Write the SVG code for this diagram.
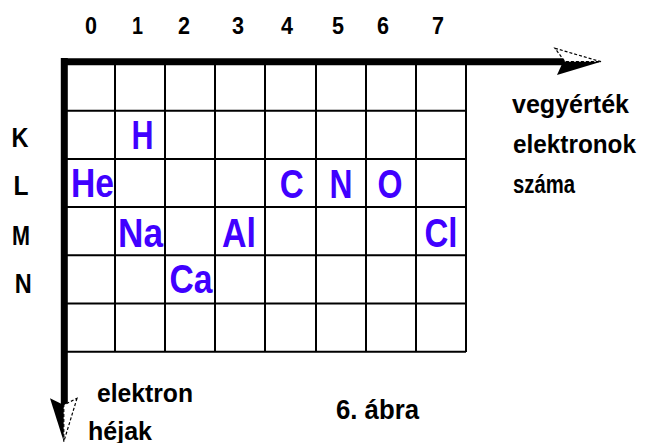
<svg xmlns="http://www.w3.org/2000/svg" width="645" height="443" viewBox="0 0 645 443">
<style>
text{font-family:"Liberation Sans",Arial,sans-serif;font-weight:bold}
.el{fill:#4000ff;font-size:41px;text-anchor:middle}
.dg{fill:#000;font-size:24px;text-anchor:middle}
.rw{fill:#000;font-size:28px;text-anchor:middle}
.lb{fill:#000;font-size:25px}
.grid{stroke:#000;stroke-width:2;fill:none}
.axis{stroke:#000;stroke-width:7;fill:none}
.dash{fill:#fff;stroke:#000;stroke-width:1.2;stroke-dasharray:3 2}
</style>
<rect width="645" height="443" fill="#fff"/>
<g id="grid" class="grid">
<path d="M115 62V352M165 62V352M215 62V352M265 62V352M316 62V352M366 62V352M416 62V352M466 62V352"/>
<path d="M64 110.7H466M64 158.9H466M64 207.1H466M64 255.3H466M64 303.5H466M64 351.7H466"/>
</g>
<g id="connectors">
<g id="axis-x">
<path class="axis" d="M61 61.7H566"/>
<path class="dash" d="M555 48.3L601 61.7L565 61.7Z"/>
<path fill="#000" d="M557 75L601 61.7L563 61.7Z"/>
</g>
<g id="axis-y">
<path class="axis" d="M64.3 58V408"/>
<path fill="#000" d="M50 398.3L63.8 441.7L63.8 405Z"/>
<path class="dash" d="M77 398.3L63.8 441.7L63.8 405Z"/>
</g>
</g>
<g id="col-labels">
<text class="dg" x="91" y="34" textLength="12" lengthAdjust="spacingAndGlyphs">0</text>
<text class="dg" x="137.5" y="34" textLength="11" lengthAdjust="spacingAndGlyphs">1</text>
<text class="dg" x="184" y="34" textLength="12" lengthAdjust="spacingAndGlyphs">2</text>
<text class="dg" x="238" y="34" textLength="12" lengthAdjust="spacingAndGlyphs">3</text>
<text class="dg" x="287" y="34" textLength="12" lengthAdjust="spacingAndGlyphs">4</text>
<text class="dg" x="338" y="34" textLength="12" lengthAdjust="spacingAndGlyphs">5</text>
<text class="dg" x="383" y="34" textLength="12" lengthAdjust="spacingAndGlyphs">6</text>
<text class="dg" x="438" y="34" textLength="12" lengthAdjust="spacingAndGlyphs">7</text>
</g>
<g id="row-labels">
<text class="rw" x="20" y="146.5" textLength="17" lengthAdjust="spacingAndGlyphs">K</text>
<text class="rw" x="21" y="195" textLength="15" lengthAdjust="spacingAndGlyphs">L</text>
<text class="rw" x="21" y="245" textLength="18" lengthAdjust="spacingAndGlyphs">M</text>
<text class="rw" x="23.3" y="293" textLength="17" lengthAdjust="spacingAndGlyphs">N</text>
</g>
<g id="el-H"><text class="el" x="142.5" y="149" textLength="22" lengthAdjust="spacingAndGlyphs">H</text></g>
<g id="el-He"><text class="el" x="92.5" y="196.5" textLength="43" lengthAdjust="spacingAndGlyphs">He</text></g>
<g id="el-Na"><text class="el" x="140.5" y="246.5" textLength="45" lengthAdjust="spacingAndGlyphs">Na</text></g>
<g id="el-Ca"><text class="el" x="191" y="292.5" textLength="43" lengthAdjust="spacingAndGlyphs">Ca</text></g>
<g id="el-Al"><text class="el" x="239" y="246.5" textLength="34" lengthAdjust="spacingAndGlyphs">Al</text></g>
<g id="el-C"><text class="el" x="291.7" y="197.5" textLength="24" lengthAdjust="spacingAndGlyphs">C</text></g>
<g id="el-N"><text class="el" x="341" y="197.5" textLength="23" lengthAdjust="spacingAndGlyphs">N</text></g>
<g id="el-O"><text class="el" x="390" y="197.5" textLength="25" lengthAdjust="spacingAndGlyphs">O</text></g>
<g id="el-Cl"><text class="el" x="441" y="246.5" textLength="33" lengthAdjust="spacingAndGlyphs">Cl</text></g>
<g id="label-x">
<text class="lb" x="512" y="113" textLength="117" lengthAdjust="spacingAndGlyphs">vegyérték</text>
<text class="lb" x="513" y="153" textLength="123" lengthAdjust="spacingAndGlyphs">elektronok</text>
<text class="lb" x="513" y="193" textLength="62" lengthAdjust="spacingAndGlyphs">száma</text>
</g>
<g id="label-y">
<text class="lb" x="97" y="401.5" textLength="96" lengthAdjust="spacingAndGlyphs">elektron</text>
<text class="lb" x="88" y="440" textLength="64" lengthAdjust="spacingAndGlyphs">héjak</text>
</g>
<g id="caption">
<text class="lb" x="336" y="419" style="font-size:27px" textLength="83" lengthAdjust="spacingAndGlyphs">6. ábra</text>
</g>
</svg>
